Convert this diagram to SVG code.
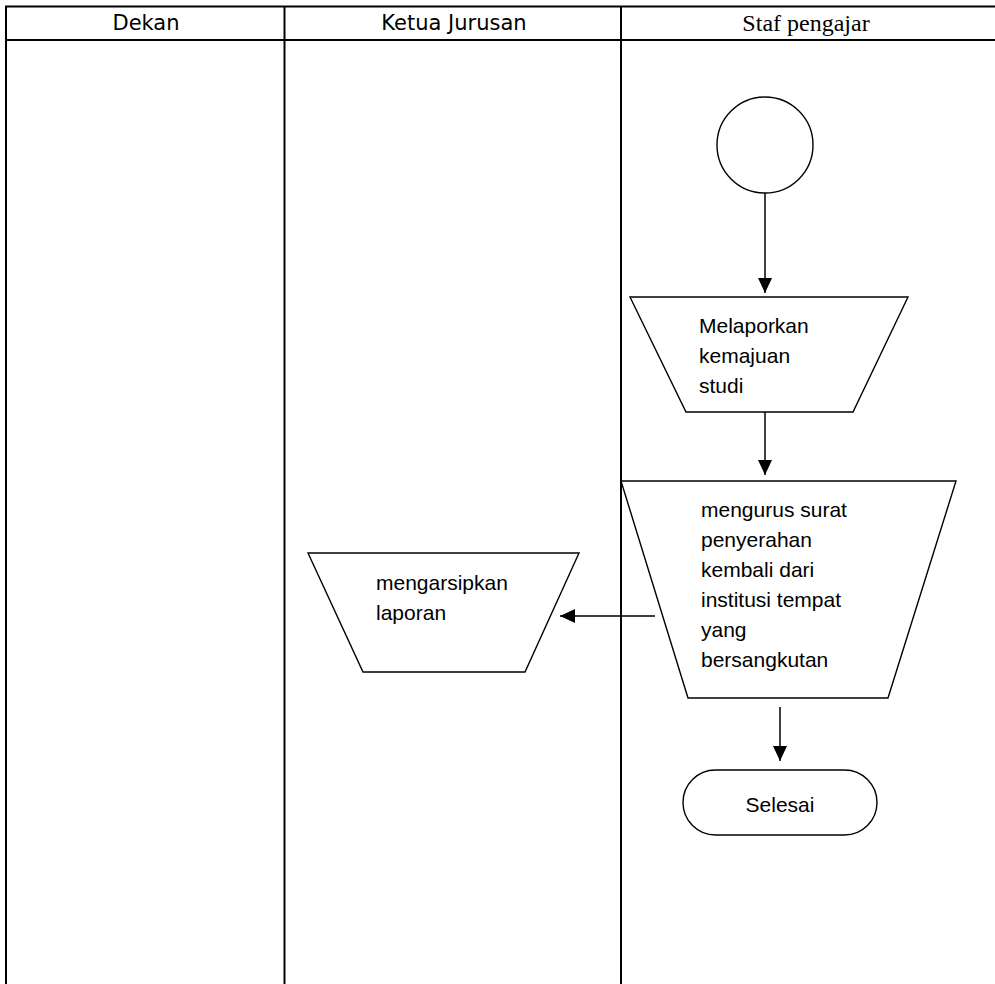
<svg xmlns="http://www.w3.org/2000/svg" width="995" height="984" viewBox="0 0 995 984">
<style>
.lane{stroke:#000;stroke-width:2;fill:none}
.shape{stroke:#000;stroke-width:1.4;fill:#fff}
.conn{stroke:#000;stroke-width:1.5;fill:none}
.hdr{font-family:"DejaVu Sans",Verdana,sans-serif;font-size:21px;fill:#000}
.hdrs{font-family:"Liberation Serif","Times New Roman",serif;font-size:24px;fill:#000}
.lbl{font-family:"Liberation Sans",Arial,sans-serif;font-size:21px;fill:#000}
</style>
<defs>
<marker id="ah" viewBox="0 0 15 14" refX="15" refY="7" markerWidth="15" markerHeight="14" markerUnits="userSpaceOnUse" orient="auto">
<path d="M0,0 L15,7 L0,14 Z" fill="#000"/>
</marker>
</defs>
<rect width="995" height="984" fill="#fff"/>
<g id="lanes">
<line class="lane" x1="5" y1="6.5" x2="995" y2="6.5"/>
<line class="lane" x1="5" y1="40" x2="995" y2="40"/>
<line class="lane" x1="6" y1="6" x2="6" y2="984"/>
<line class="lane" x1="284.5" y1="6" x2="284.5" y2="984"/>
<line class="lane" x1="621" y1="6" x2="621" y2="984"/>
<text class="hdr" x="146" y="30" text-anchor="middle">Dekan</text>
<text class="hdr" x="454" y="30" text-anchor="middle">Ketua Jurusan</text>
<text class="hdrs" x="806" y="31" text-anchor="middle">Staf pengajar</text>
</g>
<g id="connectors">
<line class="conn" x1="765" y1="193" x2="765" y2="293" marker-end="url(#ah)"/>
<line class="conn" x1="765" y1="412" x2="765" y2="475" marker-end="url(#ah)"/>
<line class="conn" x1="780" y1="707" x2="780" y2="761" marker-end="url(#ah)"/>
<line class="conn" x1="655" y1="616" x2="560" y2="616" marker-end="url(#ah)"/>
</g>
<g id="start">
<circle class="shape" cx="765" cy="145" r="48"/>
</g>
<g id="melaporkan">
<polygon class="shape" points="630,297 908,297 853,412 686,412"/>
<text class="lbl" x="699" y="333">Melaporkan</text>
<text class="lbl" x="699" y="363">kemajuan</text>
<text class="lbl" x="699" y="393">studi</text>
</g>
<g id="mengurus">
<polygon class="shape" points="621,481 956,481 888,698 688,698"/>
<text class="lbl" x="701" y="517">mengurus surat</text>
<text class="lbl" x="701" y="547">penyerahan</text>
<text class="lbl" x="701" y="577">kembali dari</text>
<text class="lbl" x="701" y="607">institusi tempat</text>
<text class="lbl" x="701" y="637">yang</text>
<text class="lbl" x="701" y="667">bersangkutan</text>
</g>
<g id="mengarsipkan">
<polygon class="shape" points="308,553 579,553 525,672 363,672"/>
<text class="lbl" x="376" y="590">mengarsipkan</text>
<text class="lbl" x="376" y="620">laporan</text>
</g>
<g id="selesai">
<rect class="shape" x="683" y="770" width="194" height="65" rx="32.5"/>
<text class="lbl" x="780" y="812" text-anchor="middle">Selesai</text>
</g>
</svg>
